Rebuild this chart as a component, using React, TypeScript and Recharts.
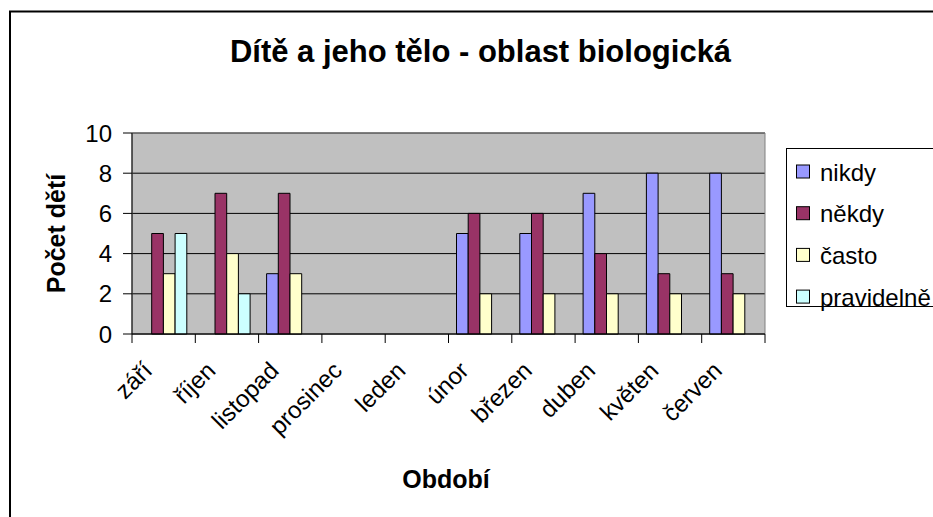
import React from 'react';
import { BarChart, Bar, XAxis, YAxis, CartesianGrid, ReferenceArea } from 'recharts';

// ---- data ----
const categories = ['září', 'říjen', 'listopad', 'prosinec', 'leden', 'únor', 'březen', 'duben', 'květen', 'červen'];
const nikdy = [0, 0, 3, 0, 0, 5, 5, 7, 8, 8];
const nekdy = [5, 7, 7, 0, 0, 6, 6, 4, 3, 3];
const casto = [3, 4, 3, 0, 0, 2, 2, 2, 2, 2];
const pravidelne = [5, 2, 0, 0, 0, 0, 0, 0, 0, 0];
const seriesNames = ['nikdy', 'někdy', 'často', 'pravidelně'];
const seriesColors = ['#9999FF', '#993366', '#FFFFCC', '#CCFFFF'];
const yTicks = [0, 2, 4, 6, 8, 10];
const chartTitle = 'Dítě a jeho tělo - oblast biologická';
const xTitle = 'Období';
const yTitle = 'Počet dětí';

const seriesValues = [nikdy, nekdy, casto, pravidelne];
const keys = seriesNames.map((_, i) => `s${i}`);
const data = categories.map((name, i) => {
  const row: Record<string, any> = { name };
  seriesValues.forEach((vals, s) => {
    row[keys[s]] = vals[i];
  });
  return row;
});

// ---- layout ----
const W = 933;
const H = 517;
const PLOT_LEFT = 132;
const PLOT_TOP = 133;
const PLOT_RIGHT = 765;
const PLOT_BOTTOM = 334;
const BAND = (PLOT_RIGHT - PLOT_LEFT) / categories.length;
const FONT = '"Liberation Sans", Arial, Helvetica, sans-serif';

function CategoryTick(props: any) {
  const { x, y, payload, index } = props;
  const left = x - BAND / 2;
  const isLast = index === categories.length - 1 || payload?.value === categories[categories.length - 1];
  const ax = x - 10;
  const ay = y + 38;
  return (
    <g>
      <line x1={left} y1={y} x2={left} y2={y + 9} stroke="#000" strokeWidth={1} />
      {isLast && <line x1={x + BAND / 2} y1={y} x2={x + BAND / 2} y2={y + 9} stroke="#000" strokeWidth={1} />}
      <text
        x={ax}
        y={ay}
        textAnchor="end"
        transform={`rotate(-45 ${ax} ${ay})`}
        fontSize={24}
        fill="#000"
        fontFamily={FONT}
      >
        {payload.value}
      </text>
    </g>
  );
}

const LEG_X = 786;
const LEG_Y = 148;
const LEG_H = 158;
const LEG_ROW0 = 171.5;
const LEG_STEP = 41.7;

export default function App() {
  return (
    <div
      style={{
        position: 'fixed',
        left: 0,
        top: 0,
        width: W,
        height: H,
        overflow: 'hidden',
        background: '#fff',
        fontFamily: FONT,
      }}
    >
      <svg width={W} height={H} style={{ position: 'absolute', left: 0, top: 0 }}>
        <rect x={10} y={11.5} width={1000} height={1000} fill="#fff" stroke="#000" strokeWidth={2} />
        <text x={480.5} y={62} textAnchor="middle" fontSize={31} fontWeight="bold" fill="#000" fontFamily={FONT}>
          {chartTitle}
        </text>
        <text x={446} y={488} textAnchor="middle" fontSize={25} fontWeight="bold" fill="#000" fontFamily={FONT}>
          {xTitle}
        </text>
        <text
          x={65}
          y={233.5}
          textAnchor="middle"
          transform="rotate(-90 65 233.5)"
          fontSize={25}
          fontWeight="bold"
          fill="#000"
          fontFamily={FONT}
        >
          {yTitle}
        </text>
      </svg>
      <div style={{ position: 'absolute', left: 0, top: 0 }}>
        <BarChart
          width={W}
          height={H}
          data={data}
          margin={{ top: PLOT_TOP, right: W - PLOT_RIGHT, bottom: 0, left: 0 }}
          barCategoryGap="13%"
          barGap={0}
        >
          <CartesianGrid vertical={false} stroke="#000" strokeWidth={1} fill="#C0C0C0" fillOpacity={1} />
          <ReferenceArea y1={0} y2={10} fill="none" fillOpacity={0} stroke="#808080" strokeWidth={1} ifOverflow="visible" />
          <XAxis
            dataKey="name"
            height={H - PLOT_BOTTOM}
            tickSize={0}
            tickMargin={0}
            tickLine={false}
            axisLine={{ stroke: '#000', strokeWidth: 1 }}
            interval={0}
            tick={<CategoryTick />}
          />
          <YAxis
            width={PLOT_LEFT}
            domain={[0, 10]}
            ticks={yTicks}
            interval={0}
            tickSize={9}
            tickMargin={11}
            axisLine={{ stroke: '#000', strokeWidth: 1 }}
            tickLine={{ stroke: '#000', strokeWidth: 1 }}
            tick={{ fill: '#000', fontSize: 24, fontFamily: FONT }}
          />
          {keys.map((k, i) => (
            <Bar
              key={k}
              dataKey={k}
              name={seriesNames[i]}
              fill={seriesColors[i]}
              stroke="#000"
              strokeWidth={1}
              barSize={11.7}
              isAnimationActive={false}
            />
          ))}
        </BarChart>
      </div>
      <svg width={W} height={H} style={{ position: 'absolute', left: 0, top: 0, pointerEvents: 'none' }}>
        <rect x={LEG_X + 0.5} y={LEG_Y + 0.5} width={300} height={LEG_H} fill="#fff" stroke="#000" strokeWidth={1} />
        {seriesNames.map((n, i) => {
          const cy = LEG_ROW0 + i * LEG_STEP;
          return (
            <g key={n}>
              <rect x={796.5} y={cy - 6.5} width={13} height={13} fill={seriesColors[i]} stroke="#000" strokeWidth={1} />
              <text x={820} y={cy + 9} fontSize={24} fill="#000" fontFamily={FONT}>
                {n}
              </text>
            </g>
          );
        })}
      </svg>
    </div>
  );
}
